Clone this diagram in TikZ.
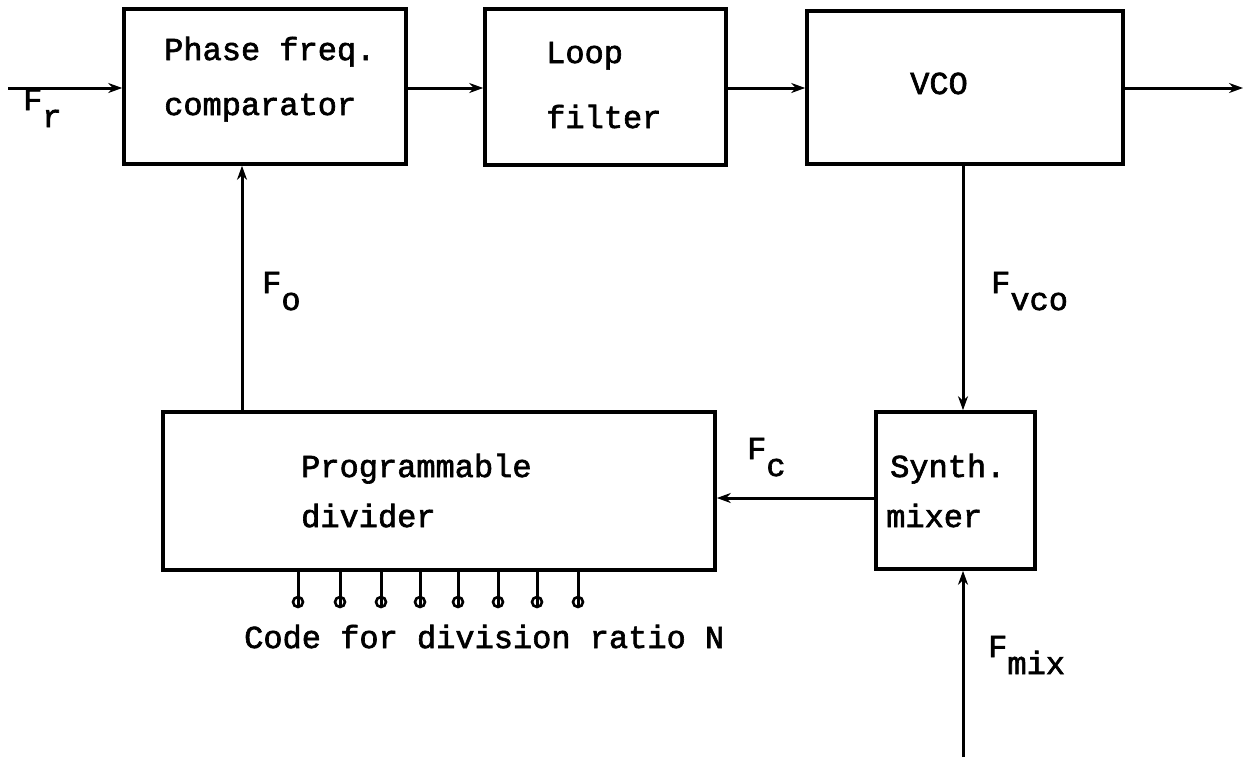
\documentclass[tikz,border=0pt]{standalone}
\usepackage{fontspec}
\newfontfamily\tw[FakeBold=2]{Liberation Mono}
\usetikzlibrary{arrows.meta}
\begin{document}
\begin{tikzpicture}[x=1pt,y=-1pt,
  blk/.style={draw,line width=3.6pt,minimum width=#1,inner sep=0pt},
  txt/.style={anchor=base west,inner sep=0pt,font=\tw\fontsize{32}{36}\selectfont},
  arr/.style={line width=3pt,-{Stealth[length=14pt,width=10pt]}},
  pin/.style={line width=3pt}]
\useasboundingbox (0,0) rectangle (1243,758);
% boxes
\node[blk=282pt,minimum height=155pt] (cmp) at (265,86.5) {};
\node[blk=241pt,minimum height=156pt] (lpf) at (605.5,87) {};
\node[blk=316pt,minimum height=153pt] (vco) at (965,87.5) {};
\node[blk=552pt,minimum height=158pt] (div) at (439,491) {};
\node[blk=159pt,minimum height=157pt] (mix) at (955.5,490.5) {};
% box texts
\node[txt] (t1) at (164,60) {Phase freq.};
\node[txt] (t2) at (164,115) {comparator};
\node[txt] (t3) at (546,63) {Loop};
\node[txt] (t4) at (546,128) {filter};
\node[txt] (t5) at (910,94) {VCO};
\node[txt] (t6) at (301,477) {Programmable};
\node[txt] (t7) at (301,527) {divider};
\node[txt] (t8) at (890,477) {Synth.};
\node[txt] (t9) at (886,527) {mixer};
\node[txt] (t10) at (244,648) {Code for division ratio N};
% signal labels
\node[txt] (lr) at (23,110) {F\raisebox{-17pt}{r}};
\node[txt] (lo) at (262,293) {F\raisebox{-17pt}{o}};
\node[txt] (lv) at (991,293) {F\raisebox{-17pt}{vco}};
\node[txt] (lc) at (747,459) {F\raisebox{-17pt}{c}};
\node[txt] (lm) at (988,657) {F\raisebox{-17pt}{mix}};
% free ends
\coordinate (in) at (8,88);
\coordinate (out) at (1243,88);
\coordinate (fo) at (242,300);
\coordinate (fv) at (963,300);
\coordinate (fm) at (963,757);
\coordinate (fc) at (0,498);
% connectors
\draw[arr] (in) -- (cmp.west |- in);
\draw[arr] (cmp.east |- in) -- (lpf.west |- in);
\draw[arr] (lpf.east |- in) -- (vco.west |- in);
\draw[arr] (vco.east |- in) -- (out);
\draw[arr] (vco.south -| fv) -- (mix.north -| fv);
\draw[arr] (mix.west |- fc) -- (div.east |- fc);
\draw[arr] (div.north -| fo) -- (cmp.south -| fo);
\draw[arr] (fm) -- (mix.south -| fm);
% programming pins
\foreach \x [count=\i] in {298,340,381,420,458,498,537,578}{
  \coordinate (p\i) at (\x,607);
  \draw[pin] (div.south -| p\i) -- (p\i);
  \draw[line width=2.6pt] ([yshift=5pt]p\i) circle (5pt);
}
\end{tikzpicture}
\end{document}
